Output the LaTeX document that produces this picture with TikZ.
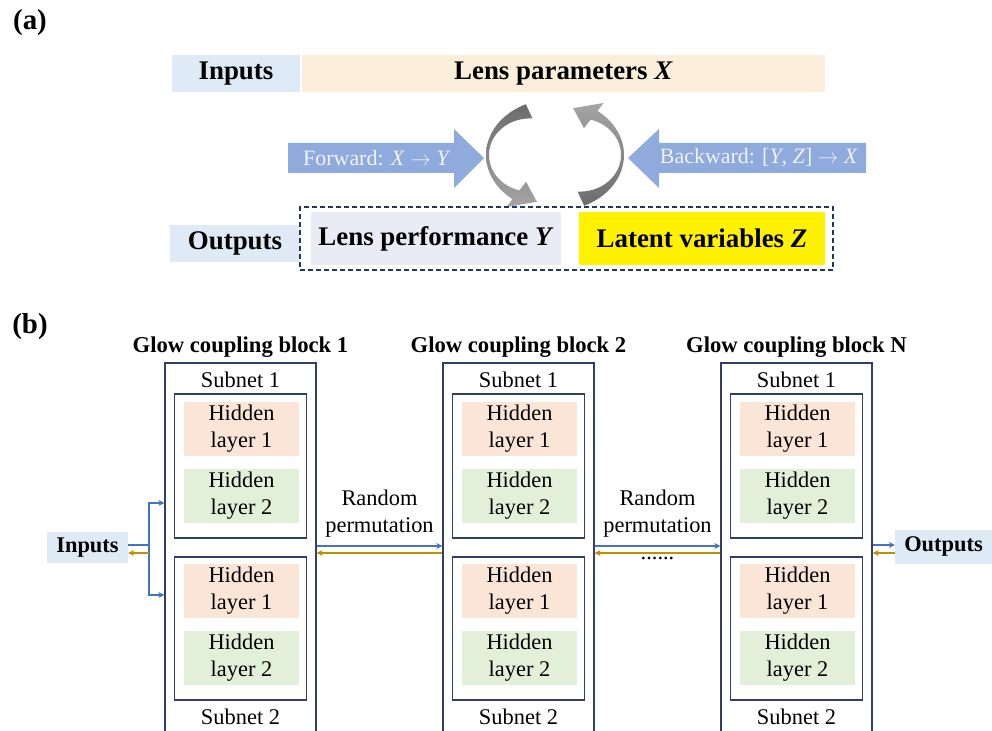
\documentclass[tikz,border=0pt]{standalone}
\usepackage{fontspec}
\setmainfont{Liberation Serif}
\usetikzlibrary{arrows.meta}

\definecolor{inblue}{RGB}{222,235,247}
\definecolor{parbeige}{RGB}{251,239,220}
\definecolor{perflav}{RGB}{233,235,245}
\definecolor{arrowfill}{RGB}{143,170,220}
\definecolor{boxline}{RGB}{50,62,100}
\definecolor{dashnavy}{RGB}{31,56,100}
\definecolor{hidone}{RGB}{251,229,214}
\definecolor{hidtwo}{RGB}{226,240,217}
\definecolor{fwdblue}{RGB}{68,114,196}
\definecolor{bwdgold}{RGB}{191,144,0}
\definecolor{arcdark}{RGB}{108,108,108}
\definecolor{arclight}{RGB}{165,165,165}

\begin{document}
\begin{tikzpicture}[x=1bp,y=-1bp,
	big/.style={font=\fontsize{27}{30}\selectfont\bfseries},
	txt/.style={font=\fontsize{22.5}{27}\selectfont},
	tag/.style={font=\fontsize{29}{32}\selectfont\bfseries,inner sep=0pt},
	bar/.style={big,minimum height=37bp,inner sep=0pt},
	hid/.style={txt,align=center,minimum width=115bp,minimum height=54bp,inner sep=0pt},
	subnet/.style={draw=boxline,line width=1.3bp,minimum width=132bp,minimum height=144bp},
	block/.style={draw=boxline,line width=1.3bp,minimum width=151bp,minimum height=382bp},
	fwd/.style={fwdblue,line width=1.5bp,-{Stealth[length=6bp,width=6bp]}},
	bwd/.style={bwdgold,line width=1.5bp,-{Stealth[length=6bp,width=6bp]}}]

	\useasboundingbox (0,0) rectangle (992,731);

	% (a) inputs and outputs of the network
	\node[tag] (pa) at (30,23) {(a)};
	\node[bar,fill=inblue,minimum width=128bp] (inp) at (236,73.5) {Inputs};
	\node[bar,fill=parbeige,minimum width=523bp] (par) at (563.5,73.5) {Lens parameters \textit{X}};

	\fill[arrowfill] (288,143) -- (454,143) -- (454,129) -- (484,158) -- (454,188) -- (454,173) -- (288,173) -- cycle;
	\fill[arrowfill] (866,143) -- (659,143) -- (659,129) -- (628,158) -- (659,188) -- (659,173) -- (866,173) -- cycle;
	\node[txt,font=\fontsize{22}{27}\selectfont,text=white!95!black] (fw) at (377,158) {Forward: \textit{X} $\rightarrow$ \textit{Y}};
	\node[txt,font=\fontsize{22}{27}\selectfont,text=white!95!black] (bw) at (759,158) {Backward: [\textit{Y}, \textit{Z}] $\rightarrow$ \textit{X}};

	% the two curved arrows, one turned by 180 degrees
	\foreach \s/\ca/\cb in {1/arcdark/arclight,-1/arclight/arcdark}
		\shade[top color=\ca,bottom color=\cb]
			plot[domain=245:128,samples=40,variable=\t] ({555+\s*69*cos(\t)},{155+\s*56*sin(\t)})
			-- ({555+\s*79*cos(128)},{155+\s*66*sin(128)})
			-- ({555+\s*62*cos(107)},{155+\s*49*sin(107)})
			-- ({555+\s*47*cos(128)},{155+\s*34*sin(128)})
			-- plot[domain=128:245,samples=40,variable=\t] ({555+\s*(66-0.003*(\t-180)^2)*cos(\t)},{155+\s*(53-0.003*(\t-180)^2)*sin(\t)})
			-- cycle;

	\node[bar,fill=inblue,minimum width=130bp] (outp) at (235,243.5) {Outputs};
	\node[bar,fill=perflav,minimum width=250bp,minimum height=53bp] (perf) at (436,238.5) {Lens performance \textit{Y}};
	\node[bar,fill=yellow,minimum width=246bp,minimum height=53bp] (lat) at (702,238.5) {Latent variables \textit{Z}};
	\node[draw=dashnavy,line width=2bp,dash pattern=on 5bp off 3bp,minimum width=533bp,minimum height=63bp] (outs) at (566.5,238.5) {};

	% (b) chain of coupling blocks
	\node[tag] (pb) at (30,327) {(b)};
	\foreach \n/\bx/\name in {1/240.5/1,2/518.5/2,3/796.5/N} {
		\node[big,font=\fontsize{22.7}{27}\selectfont\bfseries] (t\n) at (\bx,347) {Glow coupling block \name};
		\node[block] (b\n) at (\bx,554) {};
		\node[txt] (sl\n) at (\bx,380) {Subnet 1};
		\node[subnet] (sa\n) at (\bx,466) {};
		\node[hid,fill=hidone] (ha\n) at (\bx+1,429) {Hidden\\layer 1};
		\node[hid,fill=hidtwo] (hb\n) at (\bx+1,496) {Hidden\\layer 2};
		\node[subnet,minimum height=143bp] (sb\n) at (\bx,628.5) {};
		\node[hid,fill=hidone] (hc\n) at (\bx+1,591) {Hidden\\layer 1};
		\node[hid,fill=hidtwo] (hd\n) at (\bx+1,658) {Hidden\\layer 2};
		\node[txt] (sm\n) at (\bx,717) {Subnet 2};
	}

	\node[bar,fill=inblue,font=\fontsize{22.5}{27}\selectfont\bfseries,minimum width=81bp,minimum height=31bp] (inb) at (87.5,547.5) {Inputs};
	\node[bar,fill=inblue,font=\fontsize{22.5}{27}\selectfont\bfseries,minimum width=97bp,minimum height=34bp] (outb) at (943.5,546.5) {Outputs};

	\coordinate (split) at (149,545);
	\coordinate (join) at (149,553);
	\draw[fwdblue,line width=1.5bp] (inb.east |- split) -- (split);
	\draw[fwd] (split) |- ([yshift=51bp]b1.west);
	\draw[fwd] (split) |- ([yshift=-41bp]b1.west);
	\draw[bwd] (join) -- (inb.east |- join);

	\draw[fwd] ([yshift=8bp]b1.east) -- ([yshift=8bp]b2.west);
	\draw[bwd] ([yshift=1bp]b2.west) -- ([yshift=1bp]b1.east);
	\draw[fwd] ([yshift=8bp]b2.east) -- ([yshift=8bp]b3.west);
	\draw[bwd] ([yshift=1bp]b3.west) -- ([yshift=1bp]b2.east);

	\coordinate (o1) at ([yshift=9bp]b3.east);
	\coordinate (o2) at ([yshift=1bp]b3.east);
	\draw[fwd] (o1) -- (o1 -| outb.west);
	\draw[bwd] (o2 -| outb.west) -- (o2);

	\node[txt,align=center] (rp1) at (379.5,513.5) {Random\\permutation};
	\node[txt,align=center] (rp2) at (657.5,513.5) {Random\\permutation};
	\node[txt] (dots) at (657.5,558) {......};
\end{tikzpicture}
\end{document}
